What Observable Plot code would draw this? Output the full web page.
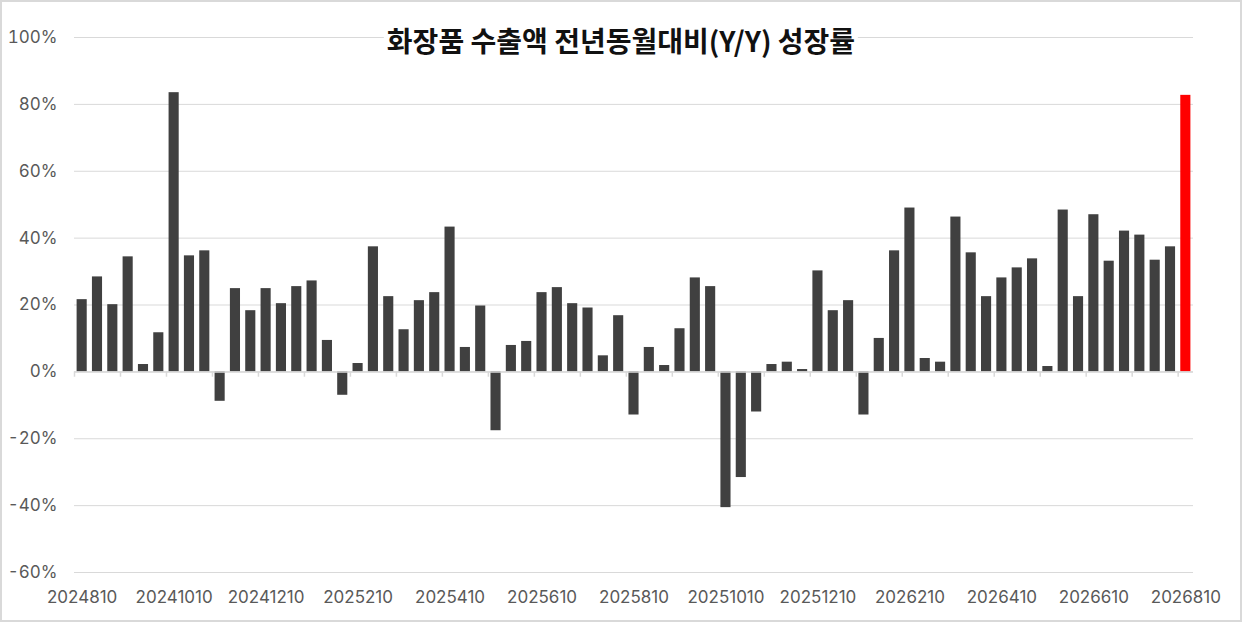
<!DOCTYPE html>
<html>
<head>
<meta charset="utf-8">
<script src="https://cdn.jsdelivr.net/npm/d3@7"></script>
<script src="https://cdn.jsdelivr.net/npm/@observablehq/plot@0.6"></script>
<style>
  html, body { margin: 0; padding: 0; background: #fff; }
  #wrap { position: relative; width: 1242px; height: 622px; overflow: hidden; background: #fff; }
  #frame { position: absolute; left: 0; top: 0; width: 1242px; height: 622px; box-sizing: border-box; border: 2px solid #d9d9d9; pointer-events: none; }
  #title { position: absolute; left: 621px; top: 40px; transform: translate(-50%, -50%);
    font-family: "Noto Sans CJK KR", "Noto Sans", sans-serif; font-weight: 700; font-size: 28px;
    color: #111; background: #fff; padding: 0 3px; line-height: 1.1; white-space: nowrap; }
  #chart { position: absolute; left: 0; top: 0; }
</style>
</head>
<body>
<div id="wrap">
  <div id="chart"></div>
  <div id="title">화장품 수출액 전년동월대비(Y/Y) 성장률</div>
  <div id="frame"></div>
</div>
<script>
const categories = [
  "2024810","2024820","2024831","2024910","2024920","2024930",
  "20241010","20241020","20241031","20241110","20241120","20241130",
  "20241210","20241220","20241231","2025110","2025120","2025131",
  "2025210","2025220","2025228","2025310","2025320","2025331",
  "2025410","2025420","2025430","2025510","2025520","2025531",
  "2025610","2025620","2025630","2025710","2025720","2025731",
  "2025810","2025820","2025831","2025910","2025920","2025930",
  "20251010","20251020","20251031","20251110","20251120","20251130",
  "20251210","20251220","20251231","2026110","2026120","2026131",
  "2026210","2026220","2026228","2026310","2026320","2026331",
  "2026410","2026420","2026430","2026510","2026520","2026531",
  "2026610","2026620","2026630","2026710","2026720","2026731",
  "2026810"
];
const growth = [
  21.6, 28.4, 20.1, 34.4, 2.2, 11.7, 83.5, 34.7, 36.2, -8.8,
  24.9, 18.3, 24.9, 20.4, 25.5, 27.2, 9.4, -7.0, 2.5, 37.4,
  22.5, 12.6, 21.3, 23.7, 43.3, 7.3, 19.7, -17.6, 7.9, 9.1,
  23.7, 25.2, 20.4, 19.1, 4.8, 16.8, -12.9, 7.3, 1.9, 12.9,
  28.1, 25.5, -40.6, -31.6, -12.0, 2.2, 2.9, 0.7, 30.2, 18.3,
  21.3, -12.9, 10.0, 36.2, 49.0, 4.0, 2.9, 46.3, 35.6, 22.5,
  28.1, 31.1, 33.8, 1.6, 48.4, 22.5, 47.0, 33.1, 42.1, 40.9,
  33.4, 37.4, 82.7
];
const xTickLabels = [
  "2024810","20241010","20241210","2025210","2025410","2025610","2025810",
  "20251010","20251210","2026210","2026410","2026610","2026810"
];
const tickMarkCats = [
  "2024810","2024910","20241010","20241110","20241210","2025110","2025210","2025310","2025410",
  "2025510","2025610","2025710","2025810","2025910","20251010","20251110","20251210","2026110",
  "2026210","2026310","2026410","2026510","2026610","2026710","2026810"
];
const yTicks = [-60, -40, -20, 0, 20, 40, 60, 80, 100];
const highlightCat = "2026810";

const data = categories.map((c, i) => ({cat: c, value: growth[i]}));

const W = 1242, H = 622, mL = 74, mR = 49, mT = 37, mB = 50;
const step = (W - mL - mR) / categories.length;

const chart = Plot.plot({
  width: W,
  height: H,
  marginLeft: mL,
  marginRight: mR,
  marginTop: mT,
  marginBottom: mB,
  style: {fontFamily: "Inter, 'Noto Sans', sans-serif", fontSize: "17px", color: "#595959", background: "transparent"},
  x: {type: "band", domain: categories, paddingInner: 0.34, paddingOuter: 0.17, round: false},
  y: {domain: [-60, 100]},
  marks: [
    Plot.gridY(yTicks, {stroke: "#d9d9d9", strokeOpacity: 1}),
    Plot.axisY({ticks: yTicks, tickFormat: d => d + "%", tickSize: 0, tickPadding: 17, label: null, fill: "#595959"}),
    Plot.axisX({ticks: xTickLabels, tickSize: 0, tickPadding: 18, label: null, fill: "#595959"}),
    Plot.barY(data, {x: "cat", y: "value", fill: d => d.cat === highlightCat ? "#ff0000" : "#404040"}),
    Plot.ruleY([0], {stroke: "#d9d9d9", strokeWidth: 1.5}),
    Plot.ruleX(tickMarkCats, {x: d => d, y1: 0, y2: -1.6, dx: -step / 2, stroke: "#d9d9d9", strokeWidth: 1.5})
  ]
});
document.getElementById("chart").appendChild(chart);
</script>
</body>
</html>
